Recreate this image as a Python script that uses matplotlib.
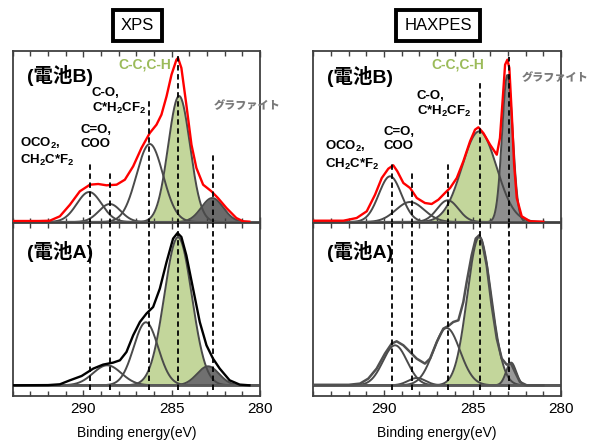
import numpy as np
import matplotlib
matplotlib.use('Agg')
import matplotlib.pyplot as plt
from matplotlib.ticker import MultipleLocator

plt.rcParams['font.family'] = ['Liberation Sans', 'Noto Sans CJK JP', 'DejaVu Sans']
plt.rcParams['mathtext.fontset'] = 'custom'
plt.rcParams['mathtext.rm'] = 'Liberation Sans:bold'
plt.rcParams['mathtext.it'] = 'Liberation Sans:bold'
plt.rcParams['mathtext.bf'] = 'Liberation Sans:bold'
plt.rcParams['mathtext.default'] = 'rm'

# ---------------- data ----------------
titles = ['XPS', 'HAXPES']
battery_labels = ['(電池B)', '(電池A)']
peak_labels = ['OCO$_2$,\nCH$_2$C*F$_2$', 'C=O,\nCOO', 'C-O,\nC*H$_2$CF$_2$', 'C-C,C-H', 'グラファイト']
xlabel = 'Binding energy(eV)'
xticks = [290, 285, 280]

# fitted components (centre eV, height, sigma eV): OCO2, C=O, C-O, C-C, graphite
xps_b_center = [289.67, 288.50, 286.24, 284.58, 282.70]
xps_b_height = [30, 18, 78, 126, 24]
xps_b_sigma = [0.70, 0.62, 0.75, 0.62, 0.62]

xps_a_center = [288.65, 286.46, 284.64, 282.94]
xps_a_height = [20, 63, 148, 19]
xps_a_sigma = [0.80, 0.69, 0.78, 0.62]

hax_b_center = [289.66, 288.53, 286.40, 284.62, 283.03]
hax_b_height = [45.7, 20, 21.7, 90.7, 147]
hax_b_sigma = [0.64, 0.80, 0.60, 0.98, 0.30]

hax_a_center = [289.38, 288.15, 286.46, 284.62, 282.82]
hax_a_height = [40, 7.3, 57.3, 148.3, 22.7]
hax_a_sigma = [0.68, 0.50, 0.75, 0.68, 0.28]

# measured envelopes
xps_b_env_x = [294.0, 292.5, 291.9, 291.33, 290.76, 290.2, 289.63, 289.16, 288.69, 288.12,
               287.65, 287.18, 286.71, 286.24, 285.86, 285.58, 285.29, 285.01, 284.73, 284.64,
               284.45, 284.17, 283.88, 283.6, 283.22, 282.75, 282.38, 281.9, 281.34, 280.96, 280.6]
xps_b_env_y = [1.0, 1.0, 1.3, 5.7, 17.3, 30.7, 37.3, 38.0, 36.7, 37.3,
               42.3, 55.7, 74.0, 89.0, 97.3, 107.3, 125.7, 147.3, 162.3, 164.0,
               154.0, 117.3, 77.3, 54.0, 37.3, 30.7, 24.0, 14.0, 4.0, 0.7, 0.3]

xps_a_env_x = [294.0, 292.0, 291.33, 290.76, 290.1, 289.44, 288.88, 288.31, 287.93, 287.56,
               287.18, 286.8, 286.43, 286.05, 285.67, 285.29, 284.92, 284.67, 284.45, 284.17,
               283.79, 283.41, 283.03, 282.66, 282.28, 281.72, 281.15, 280.6]
xps_a_env_y = [0.0, 0.2, 1.0, 5.0, 9.3, 16.7, 20.7, 22.7, 25.0, 33.3,
               50.0, 63.3, 71.7, 78.3, 96.7, 123.3, 146.7, 152.3, 148.3, 130.0,
               96.7, 63.3, 40.0, 26.7, 16.7, 5.0, 0.7, 0.0]

hax_b_env_x = [294.0, 293.0, 292.3, 291.55, 290.98, 290.51, 290.13, 289.76, 289.48, 289.25,
               288.91, 288.53, 288.15, 287.69, 287.31, 286.93, 286.56, 286.27, 285.89, 285.52,
               285.14, 284.86, 284.67, 284.39, 284.01, 283.63, 283.45, 283.29, 283.16, 283.03,
               282.92, 282.78, 282.65, 282.5, 282.22, 281.75, 281.0]
hax_b_env_y = [1.3, 1.3, 1.3, 4.0, 10.7, 27.3, 44.0, 53.3, 56.7, 50.7,
               39.0, 34.0, 24.0, 19.0, 18.0, 22.3, 29.0, 34.0, 44.0, 60.7,
               80.7, 92.3, 94.7, 89.0, 77.3, 67.3, 84.0, 124.0, 157.3, 162.3,
               154.0, 107.3, 57.3, 24.0, 5.7, 0.7, 0.3]

hax_a_env_x = [294.0, 292.0, 291.36, 290.89, 290.42, 289.95, 289.57, 289.29, 288.91, 288.53,
               288.16, 287.69, 287.4, 287.02, 286.65, 286.37, 286.09, 285.8, 285.52, 285.33,
               285.05, 284.82, 284.63, 284.48, 284.2, 283.92, 283.63, 283.35, 283.07, 282.82,
               282.6, 282.32, 281.94, 281.0]
hax_a_env_y = [0.5, 0.5, 1.7, 6.7, 16.7, 31.7, 41.7, 44.0, 40.0, 33.3,
               26.7, 21.7, 26.7, 43.3, 56.7, 59.3, 63.3, 65.0, 83.3, 103.3,
               130.0, 146.7, 150.0, 145.0, 120.0, 80.0, 46.7, 26.7, 20.7, 21.7,
               13.3, 3.3, 0.0, 0.0]

xps_dash_x = [289.60, 288.50, 286.27, 284.63, 282.68]
xps_dash_top = [60.7, 52.3, 122.3, 167.3, 69.0]
hax_dash_x = [289.57, 288.44, 286.40, 284.58, 282.94]
hax_dash_top = [60.7, 52.3, 59.0, 139.0, 165.0]

# ---------------- style ----------------
GREEN = '#c3d69b'
GREEN_TXT = '#9bbb59'
COMP = '#4a4a4a'
SPINE = '#404040'

fig = plt.figure(figsize=(5.9, 4.46), dpi=100)
W, H = 590.0, 446.0
lefts = [12.7 / W, 313.3 / W]
widths = [247.3 / W, 247.7 / W]
top_y0, top_h = 1 - 223.3 / H, 172.6 / H
bot_y0, bot_h = 1 - 396.0 / H, 172.7 / H

XLIM = (294, 280)
TOP_YLIM = (-1.3, 171.3)
BOT_YLIM = (-10.7, 162.0)


def style_axes(ax, ylim, show_labels):
    ax.set_xlim(*XLIM)
    ax.set_ylim(*ylim)
    ax.set_yticks([])
    ax.set_xticks(xticks)
    ax.xaxis.set_minor_locator(MultipleLocator(1))
    ax.tick_params(axis='x', which='both', direction='in', top=True, bottom=True,
                   color=SPINE, labelsize=11, pad=4.5)
    ax.tick_params(axis='x', which='major', length=4.5, width=1.0)
    ax.tick_params(axis='x', which='minor', length=3.5, width=1.0)
    if show_labels:
        ax.set_xticklabels([str(t) for t in xticks])
        ax.set_xlabel(xlabel, fontsize=10, labelpad=7)
    else:
        ax.set_xticklabels([])
    for s in ax.spines.values():
        s.set_color(SPINE)
        s.set_linewidth(1.3)


def draw_panel(ax, centers, heights, sigmas, env_x, env_y, env_color, env_lw,
               graph_color, dash_x, dash_top, full_dash):
    x = np.linspace(294, 280, 800)
    comps = [h * np.exp(-0.5 * ((x - c) / s) ** 2) for c, h, s in zip(centers, heights, sigmas)]
    ax.fill_between(x, 0, comps[-2], color=GREEN, lw=0, zorder=1)
    ax.fill_between(x, 0, comps[-1], color=graph_color, lw=0, zorder=1)
    for cy in comps:
        ax.plot(x, cy, color=COMP, lw=1.4, zorder=2)
    ax.axhline(0, color='#5a5a5a', lw=2.0, zorder=2)
    ax.plot(env_x, env_y, color=env_color, lw=env_lw, zorder=3, solid_joinstyle='round')
    for dx, dt in zip(dash_x, dash_top):
        if full_dash:
            ax.plot([dx, dx], [-5, ax.get_ylim()[1]], color='black', lw=1.3,
                    ls=(0, (3, 2)), zorder=4, clip_on=True)
        else:
            ax.plot([dx, dx], [-2, dt], color='black', lw=1.3,
                    ls=(0, (3, 2)), zorder=4, clip_on=True)


bold = dict(fontweight='bold')
GRAPH_TXT = dict(fontsize=8, color='#7a7a7a', ha='left', va='center', clip_on=False,
                 fontweight='heavy')

# ---------- XPS ----------
ax1 = fig.add_axes([lefts[0], top_y0, widths[0], top_h])
style_axes(ax1, TOP_YLIM, False)
draw_panel(ax1, xps_b_center, xps_b_height, xps_b_sigma, xps_b_env_x, xps_b_env_y,
           'red', 1.7, '#6b6b6b', xps_dash_x, xps_dash_top, False)
ax1.text(293.21, 146.5, battery_labels[0], fontsize=14, ha='left', va='center', **bold)
ax1.text(288.02, 157.3, peak_labels[3], fontsize=10, color=GREEN_TXT, ha='left', va='center', **bold)
ax1.text(282.64, 116.2, peak_labels[4], **GRAPH_TXT)
ax1.text(293.59, 70.0, peak_labels[0], fontsize=9.5, ha='left', va='center', linespacing=1.2, **bold)
ax1.text(290.19, 85.0, peak_labels[1], fontsize=9.5, ha='left', va='center', linespacing=1.3, **bold)
ax1.text(289.53, 120.7, peak_labels[2], fontsize=9.5, ha='left', va='center', linespacing=1.2, **bold)

ax2 = fig.add_axes([lefts[0], bot_y0, widths[0], bot_h])
style_axes(ax2, BOT_YLIM, True)
draw_panel(ax2, xps_a_center, xps_a_height, xps_a_sigma, xps_a_env_x, xps_a_env_y,
           'black', 1.7, '#707070', xps_dash_x, xps_dash_top, True)
ax2.text(293.21, 133.3, battery_labels[1], fontsize=14, ha='left', va='center', **bold)

# ---------- HAXPES ----------
ax3 = fig.add_axes([lefts[1], top_y0, widths[1], top_h])
style_axes(ax3, TOP_YLIM, False)
draw_panel(ax3, hax_b_center, hax_b_height, hax_b_sigma, hax_b_env_x, hax_b_env_y,
           'red', 1.7, '#8f8f8f', hax_dash_x, hax_dash_top, False)
ax3.text(293.24, 145.7, battery_labels[0], fontsize=14, ha='left', va='center', **bold)
ax3.text(287.31, 157.3, peak_labels[3], fontsize=10, color=GREEN_TXT, ha='left', va='center', **bold)
ax3.text(282.25, 144.5, peak_labels[4], **GRAPH_TXT)
ax3.text(293.34, 66.5, peak_labels[0], fontsize=9.5, ha='left', va='center', linespacing=1.2, **bold)
ax3.text(290.04, 83.0, peak_labels[1], fontsize=9.5, ha='left', va='center', linespacing=1.3, **bold)
ax3.text(288.15, 117.3, peak_labels[2], fontsize=9.5, ha='left', va='center', linespacing=1.2, **bold)

ax4 = fig.add_axes([lefts[1], bot_y0, widths[1], bot_h])
style_axes(ax4, BOT_YLIM, True)
draw_panel(ax4, hax_a_center, hax_a_height, hax_a_sigma, hax_a_env_x, hax_a_env_y,
           '#505050', 1.8, '#999999', hax_dash_x, hax_dash_top, True)
ax4.text(293.24, 133.3, battery_labels[1], fontsize=14, ha='left', va='center', **bold)

# titles in boxes
for xc, t in zip([137.5 / W, 438.0 / W], titles):
    fig.text(xc, 1 - 25.5 / H, t, fontsize=12, ha='center', va='center',
             bbox=dict(boxstyle='square,pad=0.5', fc='white', ec='black', lw=2.8))

fig.savefig('out.png', dpi=100)
